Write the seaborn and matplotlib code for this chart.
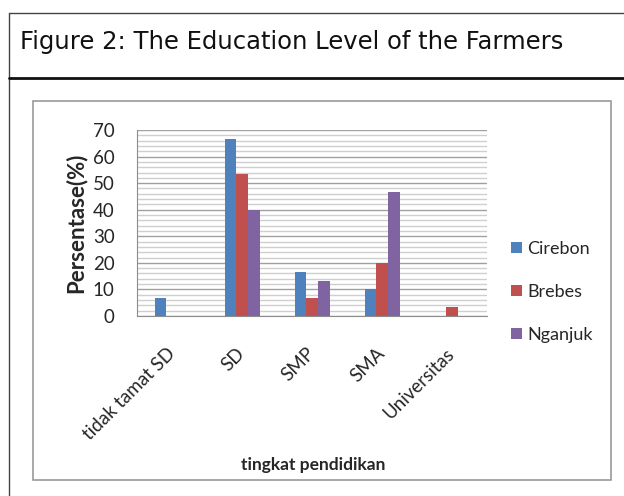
import pandas as pd
import matplotlib.pyplot as plt
import seaborn as sns
from matplotlib.lines import Line2D
from matplotlib.patches import Rectangle
from matplotlib.ticker import MultipleLocator

# data
levels = ['tidak tamat SD', 'SD', 'SMP', 'SMA', 'Universitas']
cirebon = [6.7, 66.7, 16.7, 10.0, 0.0]
brebes = [0.0, 53.3, 6.7, 20.0, 3.3]
nganjuk = [0.0, 40.0, 13.3, 46.7, 0.0]
regions = ['Cirebon', 'Brebes', 'Nganjuk']
colors = ['#4F81BD', '#C0504D', '#8064A2']

df = pd.DataFrame({'level': levels * 3,
                   'region': [r for r in regions for _ in levels],
                   'value': cirebon + brebes + nganjuk})

sns.set_style('white')
plt.rcParams['font.family'] = ['Lato', 'DejaVu Sans']

fig = plt.figure(figsize=(6.24, 4.96), dpi=100)
ax = fig.add_axes([137/624, 1 - 316/496, 350/624, 186/496])

sns.barplot(data=df, x='level', y='value', hue='region', hue_order=regions,
            palette=colors, width=0.5, saturation=1, errorbar=None,
            linewidth=0, ax=ax, zorder=3)

ax.set_ylim(0, 70)
ax.yaxis.set_major_locator(MultipleLocator(10))
ax.yaxis.set_minor_locator(MultipleLocator(2))
ax.grid(which='major', axis='y', color='#a0a0a0', linewidth=1, zorder=0)
ax.grid(which='minor', axis='y', color='#cfcfcf', linewidth=1, zorder=0)
ax.set_axisbelow(True)
for s in ['top', 'right']:
    ax.spines[s].set_visible(False)
for s in ['left', 'bottom']:
    ax.spines[s].set_color('#8c8c8c')
ax.tick_params(axis='y', which='major', length=4, color='#8c8c8c', pad=12,
               labelsize=13.5, labelcolor='#262626')
ax.tick_params(axis='y', which='minor', length=0)
ax.tick_params(axis='x', length=0, pad=25, labelsize=13.5, labelcolor='#262626')
for lbl in ax.get_xticklabels():
    lbl.set_rotation(45)
    lbl.set_ha('right')
    lbl.set_va('center')
    lbl.set_rotation_mode('anchor')

ax.set_ylabel('Persentase(%)', fontsize=16, fontweight='bold', color='#262626')
ax.yaxis.label.set_va('center')
ax.yaxis.set_label_coords(-0.175, 0.5)
ax.set_xlabel('tingkat pendidikan', fontsize=12.5, fontweight='bold', color='#262626')
ax.xaxis.label.set_va('center')
ax.xaxis.set_label_coords(0.503, -0.80)

ax.legend(loc='center left', bbox_to_anchor=(511/624, 1 - 292/496),
          bbox_transform=fig.transFigure, frameon=False, fontsize=13,
          handlelength=0.6, handleheight=0.6, handletextpad=0.3,
          labelspacing=1.5, borderpad=0, borderaxespad=0)

# inner chart frame
fig.patches.append(Rectangle((32.5/624, 1 - 480/496), 578.5/624, 379/496,
                             transform=fig.transFigure, fill=False,
                             edgecolor='#9a9a9a', linewidth=1.2))
# outer table lines and title
fig.lines.append(Line2D([9/624, 1], [1 - 12.5/496] * 2, transform=fig.transFigure,
                        color='#444444', linewidth=1))
fig.lines.append(Line2D([9/624, 9/624], [0, 1 - 12.5/496], transform=fig.transFigure,
                        color='#444444', linewidth=1))
fig.lines.append(Line2D([9/624, 1], [1 - 77.7/496] * 2, transform=fig.transFigure,
                        color='#111111', linewidth=2))
fig.text(20/624, 1 - 49/496, 'Figure 2: The Education Level of the Farmers',
         family='DejaVu Sans', fontsize=17.5, ha='left', va='baseline', color='#111111')

fig.savefig('out.png', dpi=100)
